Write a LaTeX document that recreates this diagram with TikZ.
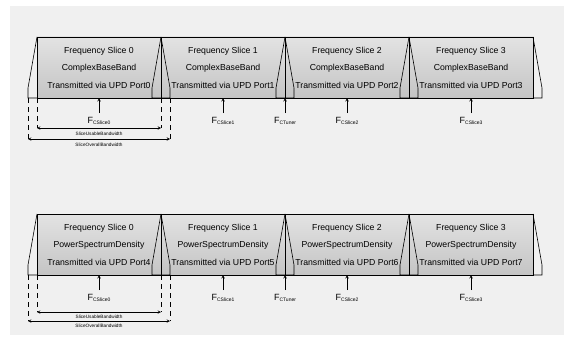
\documentclass[tikz,border=0pt]{standalone}
\usepackage{fontspec}
\setmainfont{Liberation Sans}
\usetikzlibrary{positioning}
\definecolor{bgpanel}{RGB}{240,240,240}
\newcommand{\fcenter}[1]{F\raisebox{-1pt}{\fontsize{5}{5}\selectfont #1}}

\begin{document}
\begin{tikzpicture}[x=1pt, y=1pt, >=stealth,
    slicebox/.style={draw, line width=0.8pt, rectangle, top color=gray!22, bottom color=gray!46,
      minimum width=124pt, minimum height=61pt, inner sep=0pt, outer sep=0pt,
      align=center, font=\fontsize{8.7}{17.5}\selectfont},
    slope/.style={line width=0.6pt},
    flabel/.style={inner sep=3.5pt, text height=6.5pt, text depth=2pt, font=\fontsize{9}{9}\selectfont},
    farrow/.style={->, line width=0.6pt},
    dashline/.style={dash pattern=on 5pt off 4pt, line width=0.6pt},
    dimarrow/.style={<->, line width=0.5pt},
    dimlabel/.style={font=\fontsize{4.7}{5}\selectfont, inner sep=1pt}]
    \useasboundingbox (0,0) rectangle (564,338);
    \fill[bgpanel] (10,3) rectangle (564,332);

    % Complex base band slices
    \node[slicebox] (a0) at (99,270.5) {Frequency Slice 0\\ComplexBaseBand\\Transmitted via UPD Port0};
    \node[slicebox, right=0pt of a0] (a1) {Frequency Slice 1\\ComplexBaseBand\\Transmitted via UPD Port1};
    \node[slicebox, right=0pt of a1] (a2) {Frequency Slice 2\\ComplexBaseBand\\Transmitted via UPD Port2};
    \node[slicebox, right=0pt of a2] (a3) {Frequency Slice 3\\ComplexBaseBand\\Transmitted via UPD Port3};

    % Power spectrum density slices
    \node[slicebox] (b0) at (99,93.5) {Frequency Slice 0\\PowerSpectrumDensity\\Transmitted via UPD Port4};
    \node[slicebox, right=0pt of b0] (b1) {Frequency Slice 1\\PowerSpectrumDensity\\Transmitted via UPD Port5};
    \node[slicebox, right=0pt of b1] (b2) {Frequency Slice 2\\PowerSpectrumDensity\\Transmitted via UPD Port6};
    \node[slicebox, right=0pt of b2] (b3) {Frequency Slice 3\\PowerSpectrumDensity\\Transmitted via UPD Port7};

    % Filter flanks
    \draw[slope] (a0.north west) -- ++(-9,-51) |- (a0.south west)
      (a0.north east) -- ++(9,-51) |- (a0.south east)
      (a1.north west) -- ++(-9,-51) |- (a1.south west)
      (a1.north east) -- ++(9,-51) |- (a1.south east)
      (a2.north west) -- ++(-9,-51) |- (a2.south west)
      (a2.north east) -- ++(9,-51) |- (a2.south east)
      (a3.north west) -- ++(-9,-51) |- (a3.south west)
      (a3.north east) -- ++(9,-51) |- (a3.south east);
    \draw[slope] (b0.north west) -- ++(-9,-51) |- (b0.south west)
      (b0.north east) -- ++(9,-51) |- (b0.south east)
      (b1.north west) -- ++(-9,-51) |- (b1.south west)
      (b1.north east) -- ++(9,-51) |- (b1.south east)
      (b2.north west) -- ++(-9,-51) |- (b2.south west)
      (b2.north east) -- ++(9,-51) |- (b2.south east)
      (b3.north west) -- ++(-9,-51) |- (b3.south west)
      (b3.north east) -- ++(9,-51) |- (b3.south east);

    % Centre frequencies
    \node[flabel, below=15pt of a0] (fa0) {\fcenter{CSlice0}};
    \node[flabel, below=15pt of a1] (fa1) {\fcenter{CSlice1}};
    \node[flabel, below=15pt of a1.south east] (fat) {\fcenter{CTuner}};
    \node[flabel, below=15pt of a2] (fa2) {\fcenter{CSlice2}};
    \node[flabel, below=15pt of a3] (fa3) {\fcenter{CSlice3}};
    \draw[farrow] (fa0) -- (a0);
    \draw[farrow] (fa1) -- (a1);
    \draw[farrow] (fat) -- (a1.south east);
    \draw[farrow] (fa2) -- (a2);
    \draw[farrow] (fa3) -- (a3);

    \node[flabel, below=15pt of b0] (fb0) {\fcenter{CSlice0}};
    \node[flabel, below=15pt of b1] (fb1) {\fcenter{CSlice1}};
    \node[flabel, below=15pt of b1.south east] (fbt) {\fcenter{CTuner}};
    \node[flabel, below=15pt of b2] (fb2) {\fcenter{CSlice2}};
    \node[flabel, below=15pt of b3] (fb3) {\fcenter{CSlice3}};
    \draw[farrow] (fb0) -- (b0);
    \draw[farrow] (fb1) -- (b1);
    \draw[farrow] (fbt) -- (b1.south east);
    \draw[farrow] (fb2) -- (b2);
    \draw[farrow] (fb3) -- (b3);

    % Bandwidths of slice 0
    \draw[dashline] (a0.south west) -- ++(0,-30) coordinate (ua0);
    \draw[dashline] (a0.south east) -- ++(0,-30) coordinate (ua1);
    \draw[dashline] ([xshift=-9pt]a0.south west) -- ++(0,-41) coordinate (oa0);
    \draw[dashline] ([xshift=9pt]a0.south east) -- ++(0,-41) coordinate (oa1);
    \draw[dimarrow] (ua0) -- node[dimlabel, below=3pt] {SliceUsableBandwidth} (ua1);
    \draw[dimarrow] (oa0) -- node[dimlabel, below=3pt] {SliceOverallBandwidth} (oa1);

    \draw[dashline] (b0.south west) -- ++(0,-37) coordinate (ub0);
    \draw[dashline] (b0.south east) -- ++(0,-37) coordinate (ub1);
    \draw[dashline] ([xshift=-9pt]b0.south west) -- ++(0,-46) coordinate (ob0);
    \draw[dashline] ([xshift=9pt]b0.south east) -- ++(0,-46) coordinate (ob1);
    \draw[dimarrow] (ub0) -- node[dimlabel, below=2pt] {SliceUsableBandwidth} (ub1);
    \draw[dimarrow] (ob0) -- node[dimlabel, below=2pt] {SliceOverallBandwidth} (ob1);

\end{tikzpicture}
\end{document}
